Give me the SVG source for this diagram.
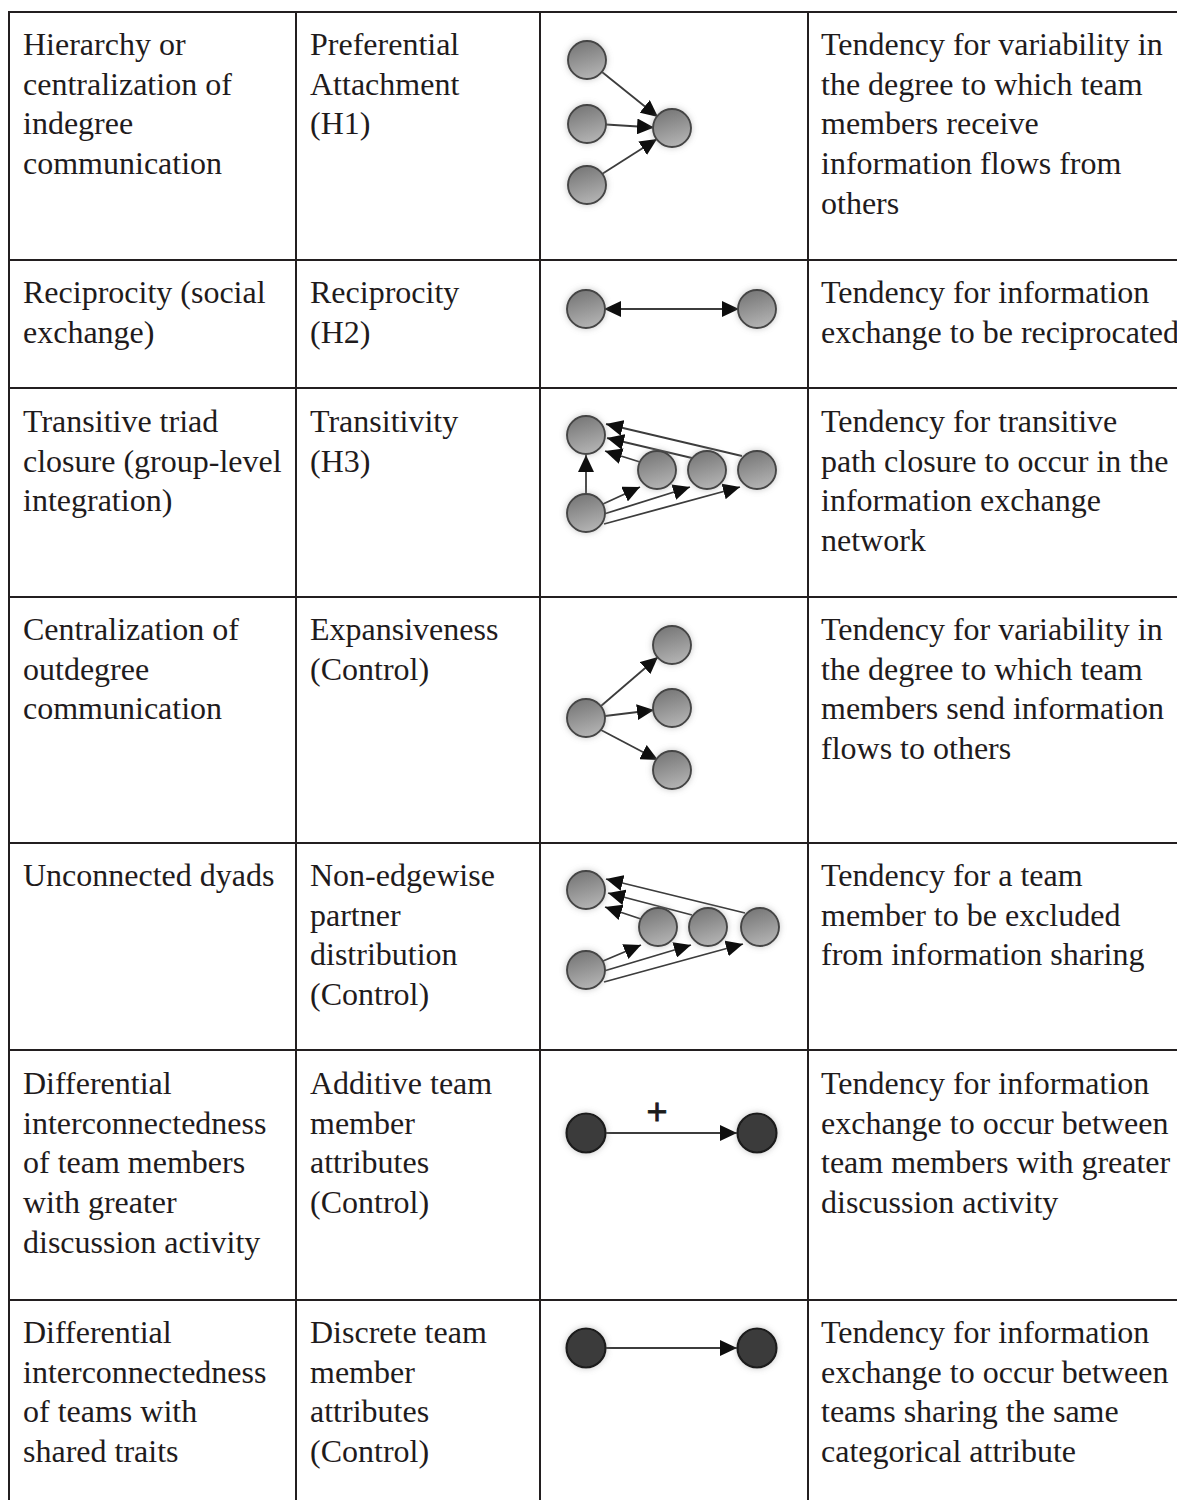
<svg xmlns="http://www.w3.org/2000/svg" width="1177" height="1500" viewBox="0 0 1177 1500">
  <style>
    .txt { font-family: "Liberation Serif", "Times New Roman", serif; font-size: 32px; fill: #1f1b1c; }
    .grid { stroke: #231f20; stroke-width: 2; fill: none; }
    .edge { stroke: #3c3c3c; stroke-width: 1.8; fill: none; }
    .arrow { marker-end: url(#head); }
    .both { marker-start: url(#headStart); marker-end: url(#head); }
    .node { fill: url(#nodeFill); stroke: #444444; stroke-width: 1.9; filter: url(#halo); }
    .dark { fill: #3b3b3b; stroke: #1c1c1c; stroke-width: 2.2; filter: url(#halo); }
    .plus { font-family: "Liberation Sans", Arial, sans-serif; font-size: 36px; fill: #1c1c1c; stroke: #1c1c1c; stroke-width: 0.8; }
  </style>
  <defs>
    <linearGradient id="nodeFill" x1="0.3" y1="0" x2="0.6" y2="1">
      <stop offset="0" stop-color="#767676"/>
      <stop offset="1" stop-color="#b4b4b4"/>
    </linearGradient>
    <filter id="halo" x="-50%" y="-50%" width="200%" height="200%">
      <feGaussianBlur in="SourceAlpha" stdDeviation="3" result="b"/>
      <feFlood flood-color="#8c8c8c" flood-opacity="0.5"/>
      <feComposite in2="b" operator="in" result="s"/>
      <feMerge><feMergeNode in="s"/><feMergeNode in="SourceGraphic"/></feMerge>
    </filter>
    <marker id="head" markerUnits="userSpaceOnUse" viewBox="0 0 17 16" markerWidth="17" markerHeight="16" refX="17" refY="8" orient="auto">
      <path d="M0,0 L17,8 L0,16 Z" fill="#0e0e0e"/>
    </marker>
    <marker id="headStart" markerUnits="userSpaceOnUse" viewBox="0 0 17 16" markerWidth="17" markerHeight="16" refX="0" refY="8" orient="auto">
      <path d="M17,0 L0,8 L17,16 Z" fill="#0e0e0e"/>
    </marker>
  </defs>

  <rect width="1177" height="1500" fill="#ffffff"/>

  <!-- table rules -->
  <g id="grid" class="grid">
    <line x1="9" y1="12" x2="1177" y2="12"/>
    <line x1="9" y1="260" x2="1177" y2="260"/>
    <line x1="9" y1="388" x2="1177" y2="388"/>
    <line x1="9" y1="597" x2="1177" y2="597"/>
    <line x1="9" y1="843" x2="1177" y2="843"/>
    <line x1="9" y1="1050" x2="1177" y2="1050"/>
    <line x1="9" y1="1300" x2="1177" y2="1300"/>
    <line x1="9" y1="11" x2="9" y2="1500"/>
    <line x1="296" y1="11" x2="296" y2="1500"/>
    <line x1="540" y1="11" x2="540" y2="1500"/>
    <line x1="808" y1="11" x2="808" y2="1500"/>
  </g>

  <!-- connectors of the small network sketches -->
  <g id="connectors">
    <!-- preferential attachment -->
    <line class="edge arrow" x1="602" y1="72" x2="658" y2="117"/>
    <line class="edge arrow" x1="606" y1="124.5" x2="654" y2="127.5"/>
    <line class="edge arrow" x1="602" y1="174" x2="657" y2="139"/>
    <!-- reciprocity -->
    <line class="edge both" x1="604" y1="309" x2="739" y2="309"/>
    <!-- transitivity -->
    <line class="edge arrow" x1="586" y1="494" x2="586" y2="455"/>
    <line class="edge arrow" x1="640" y1="462" x2="605" y2="451"/>
    <line class="edge arrow" x1="692" y1="458" x2="607" y2="438"/>
    <line class="edge arrow" x1="742" y1="456" x2="606" y2="424"/>
    <line class="edge arrow" x1="603" y1="504" x2="640" y2="487"/>
    <line class="edge arrow" x1="604" y1="514" x2="690" y2="487"/>
    <line class="edge arrow" x1="604" y1="524" x2="740" y2="487"/>
    <!-- expansiveness -->
    <line class="edge arrow" x1="601" y1="706" x2="658" y2="657"/>
    <line class="edge arrow" x1="605" y1="716" x2="654" y2="710"/>
    <line class="edge arrow" x1="601" y1="730" x2="658" y2="760"/>
    <!-- non-edgewise partner distribution -->
    <line class="edge arrow" x1="641" y1="919" x2="605" y2="907"/>
    <line class="edge arrow" x1="692" y1="915" x2="608" y2="893"/>
    <line class="edge arrow" x1="745" y1="913" x2="606" y2="879"/>
    <line class="edge arrow" x1="603" y1="961" x2="641" y2="945"/>
    <line class="edge arrow" x1="604" y1="971" x2="691" y2="945"/>
    <line class="edge arrow" x1="604" y1="982" x2="743" y2="944"/>
    <!-- additive attributes -->
    <line class="edge arrow" x1="606" y1="1133" x2="737" y2="1133"/>
    <!-- discrete attributes -->
    <line class="edge arrow" x1="606" y1="1348" x2="737" y2="1348"/>
  </g>

  <!-- row 1 -->
  <g id="row1">
    <text class="txt" x="23" y="55"><tspan x="23">Hierarchy or</tspan><tspan x="23" dy="39.7">centralization of</tspan><tspan x="23" dy="39.7">indegree</tspan><tspan x="23" dy="39.7">communication</tspan></text>
    <text class="txt" x="310" y="55"><tspan x="310">Preferential</tspan><tspan x="310" dy="39.7">Attachment</tspan><tspan x="310" dy="39.7">(H1)</tspan></text>
    <g id="pa-nodes">
      <circle class="node" cx="587" cy="60" r="19"/>
      <circle class="node" cx="587" cy="124" r="19"/>
      <circle class="node" cx="587" cy="185" r="19"/>
      <circle class="node" cx="672" cy="128" r="19"/>
    </g>
    <text class="txt" x="821" y="55"><tspan x="821">Tendency for variability in</tspan><tspan x="821" dy="39.7">the degree to which team</tspan><tspan x="821" dy="39.7">members receive</tspan><tspan x="821" dy="39.7">information flows from</tspan><tspan x="821" dy="39.7">others</tspan></text>
  </g>

  <!-- row 2 -->
  <g id="row2">
    <text class="txt" x="23" y="303"><tspan x="23">Reciprocity (social</tspan><tspan x="23" dy="39.7">exchange)</tspan></text>
    <text class="txt" x="310" y="303"><tspan x="310">Reciprocity</tspan><tspan x="310" dy="39.7">(H2)</tspan></text>
    <g id="rec-nodes">
      <circle class="node" cx="586" cy="309" r="19"/>
      <circle class="node" cx="757" cy="309" r="19"/>
    </g>
    <text class="txt" x="821" y="303"><tspan x="821">Tendency for information</tspan><tspan x="821" dy="39.7">exchange to be reciprocated</tspan></text>
  </g>

  <!-- row 3 -->
  <g id="row3">
    <text class="txt" x="23" y="432"><tspan x="23">Transitive triad</tspan><tspan x="23" dy="39.7">closure (group-level</tspan><tspan x="23" dy="39.7">integration)</tspan></text>
    <text class="txt" x="310" y="432"><tspan x="310">Transitivity</tspan><tspan x="310" dy="39.7">(H3)</tspan></text>
    <g id="tr-nodes">
      <circle class="node" cx="586" cy="435" r="19"/>
      <circle class="node" cx="586" cy="513" r="19"/>
      <circle class="node" cx="657" cy="470" r="19"/>
      <circle class="node" cx="707" cy="470" r="19"/>
      <circle class="node" cx="757" cy="470" r="19"/>
    </g>
    <text class="txt" x="821" y="432"><tspan x="821">Tendency for transitive</tspan><tspan x="821" dy="39.7">path closure to occur in the</tspan><tspan x="821" dy="39.7">information exchange</tspan><tspan x="821" dy="39.7">network</tspan></text>
  </g>

  <!-- row 4 -->
  <g id="row4">
    <text class="txt" x="23" y="640"><tspan x="23">Centralization of</tspan><tspan x="23" dy="39.7">outdegree</tspan><tspan x="23" dy="39.7">communication</tspan></text>
    <text class="txt" x="310" y="640"><tspan x="310">Expansiveness</tspan><tspan x="310" dy="39.7">(Control)</tspan></text>
    <g id="ex-nodes">
      <circle class="node" cx="586" cy="718" r="19"/>
      <circle class="node" cx="672" cy="645" r="19"/>
      <circle class="node" cx="672" cy="708" r="19"/>
      <circle class="node" cx="672" cy="770" r="19"/>
    </g>
    <text class="txt" x="821" y="640"><tspan x="821">Tendency for variability in</tspan><tspan x="821" dy="39.7">the degree to which team</tspan><tspan x="821" dy="39.7">members send information</tspan><tspan x="821" dy="39.7">flows to others</tspan></text>
  </g>

  <!-- row 5 -->
  <g id="row5">
    <text class="txt" x="23" y="886">Unconnected dyads</text>
    <text class="txt" x="310" y="886"><tspan x="310">Non-edgewise</tspan><tspan x="310" dy="39.7">partner</tspan><tspan x="310" dy="39.7">distribution</tspan><tspan x="310" dy="39.7">(Control)</tspan></text>
    <g id="ne-nodes">
      <circle class="node" cx="586" cy="890" r="19"/>
      <circle class="node" cx="586" cy="970" r="19"/>
      <circle class="node" cx="658" cy="927" r="19"/>
      <circle class="node" cx="708" cy="927" r="19"/>
      <circle class="node" cx="760" cy="927" r="19"/>
    </g>
    <text class="txt" x="821" y="886"><tspan x="821">Tendency for a team</tspan><tspan x="821" dy="39.7">member to be excluded</tspan><tspan x="821" dy="39.7">from information sharing</tspan></text>
  </g>

  <!-- row 6 -->
  <g id="row6">
    <text class="txt" x="23" y="1094"><tspan x="23">Differential</tspan><tspan x="23" dy="39.7">interconnectedness</tspan><tspan x="23" dy="39.7">of team members</tspan><tspan x="23" dy="39.7">with greater</tspan><tspan x="23" dy="39.7">discussion activity</tspan></text>
    <text class="txt" x="310" y="1094"><tspan x="310">Additive team</tspan><tspan x="310" dy="39.7">member</tspan><tspan x="310" dy="39.7">attributes</tspan><tspan x="310" dy="39.7">(Control)</tspan></text>
    <g id="add-nodes">
      <circle class="dark" cx="586" cy="1133" r="19.5"/>
      <circle class="dark" cx="757" cy="1133" r="19.5"/>
      <text class="plus" x="657" y="1124" text-anchor="middle">+</text>
    </g>
    <text class="txt" x="821" y="1094"><tspan x="821">Tendency for information</tspan><tspan x="821" dy="39.7">exchange to occur between</tspan><tspan x="821" dy="39.7">team members with greater</tspan><tspan x="821" dy="39.7">discussion activity</tspan></text>
  </g>

  <!-- row 7 -->
  <g id="row7">
    <text class="txt" x="23" y="1343"><tspan x="23">Differential</tspan><tspan x="23" dy="39.7">interconnectedness</tspan><tspan x="23" dy="39.7">of teams with</tspan><tspan x="23" dy="39.7">shared traits</tspan></text>
    <text class="txt" x="310" y="1343"><tspan x="310">Discrete team</tspan><tspan x="310" dy="39.7">member</tspan><tspan x="310" dy="39.7">attributes</tspan><tspan x="310" dy="39.7">(Control)</tspan></text>
    <g id="dis-nodes">
      <circle class="dark" cx="586" cy="1348" r="19.5"/>
      <circle class="dark" cx="757" cy="1348" r="19.5"/>
    </g>
    <text class="txt" x="821" y="1343"><tspan x="821">Tendency for information</tspan><tspan x="821" dy="39.7">exchange to occur between</tspan><tspan x="821" dy="39.7">teams sharing the same</tspan><tspan x="821" dy="39.7">categorical attribute</tspan></text>
  </g>
</svg>
